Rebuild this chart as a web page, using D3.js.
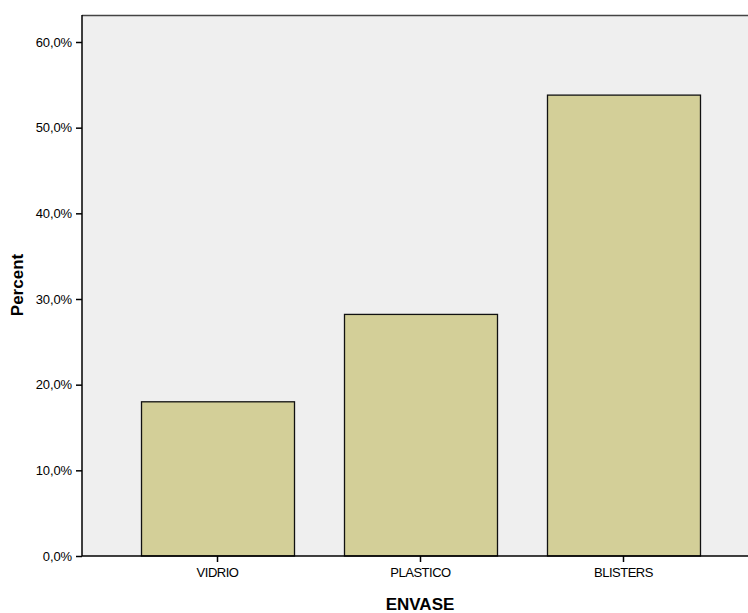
<!DOCTYPE html>
<html>
<head>
<meta charset="utf-8">
<script src="https://cdn.jsdelivr.net/npm/d3@7"></script>
<style>
  body { margin: 0; background: #fff; }
  svg { display: block; font-family: "Liberation Sans", Arial, sans-serif; }
</style>
</head>
<body>
<svg id="chart" width="748" height="613"></svg>
<script>
const categories = ["VIDRIO", "PLASTICO", "BLISTERS"];
const percents = [18.0, 28.2, 53.8];
const yTicks = [0, 10, 20, 30, 40, 50, 60];

const svg = d3.select("#chart");
const pLeft = 82, pTop = 15, pRight = 760, pBottom = 556;

const y = d3.scaleLinear().domain([0, 60]).range([pBottom, 42]);
const x = d3.scaleBand().domain(categories).range([116, 725])
  .paddingInner(0.2463).paddingOuter(0.1232);

// plot background
svg.append("rect").attr("x", pLeft).attr("y", pTop)
  .attr("width", pRight - pLeft).attr("height", pBottom - pTop)
  .attr("fill", "#efefef");
svg.append("line").attr("x1", pLeft).attr("x2", pRight).attr("y1", pTop + 0.5).attr("y2", pTop + 0.5)
  .attr("stroke", "#444").attr("stroke-width", 1.5);

// bars
svg.selectAll("rect.bar").data(categories).enter().append("rect")
  .attr("class", "bar")
  .attr("x", d => x(d) + 0.5)
  .attr("y", (d, i) => y(percents[i]))
  .attr("width", x.bandwidth())
  .attr("height", (d, i) => pBottom - y(percents[i]))
  .attr("fill", "#d3cf98")
  .attr("stroke", "#111").attr("stroke-width", 1.3);

// y axis
const yAxis = d3.axisLeft(y).tickValues(yTicks).tickSize(6).tickPadding(4)
  .tickFormat(d => d3.format(".1f")(d).replace(".", ",") + "%");
const gy = svg.append("g").attr("transform", `translate(${pLeft},0)`).call(yAxis);
gy.attr("font-size", 13).attr("font-family", "'Liberation Sans', Arial, sans-serif");
gy.select(".domain").attr("stroke", "#000").attr("stroke-width", 1.5).attr("d", `M0,${pTop}V${pBottom}`);
gy.selectAll(".tick line").attr("stroke", "#000").attr("stroke-width", 1.5);
gy.selectAll(".tick text").attr("fill", "#000").attr("letter-spacing", "-0.1");

// x axis
const xAxis = d3.axisBottom(x).tickSize(6).tickPadding(6);
const gx = svg.append("g").attr("transform", `translate(0,${pBottom})`).call(xAxis);
gx.attr("font-size", 13).attr("font-family", "'Liberation Sans', Arial, sans-serif");
gx.select(".domain").attr("stroke", "#000").attr("stroke-width", 1.5).attr("d", `M${pLeft},0H${pRight}`);
gx.selectAll(".tick line").attr("stroke", "#000").attr("stroke-width", 1.5);
gx.selectAll(".tick text").attr("fill", "#000").attr("letter-spacing", "-0.5");

// axis titles
svg.append("text").attr("x", 420).attr("y", 610).attr("text-anchor", "middle")
  .attr("font-size", 17).attr("font-weight", "bold").text("ENVASE");
svg.append("text").attr("transform", "translate(23,285) rotate(-90)").attr("text-anchor", "middle")
  .attr("font-size", 17).attr("font-weight", "bold").text("Percent");
</script>
</body>
</html>
